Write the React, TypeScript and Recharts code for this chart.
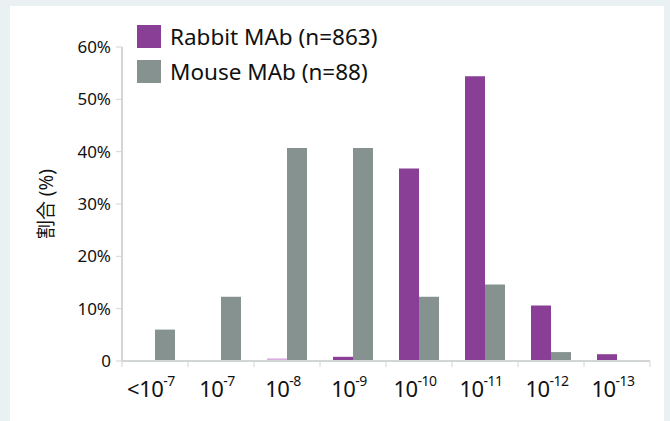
import { Bar, BarChart, Cell, XAxis, YAxis } from "recharts";

const categories = ["<10", "10", "10", "10", "10", "10", "10", "10"];
const exponents = ["-7", "-7", "-8", "-9", "-10", "-11", "-12", "-13"];
const rabbit = [0, 0, 0.5, 0.8, 36.8, 54.4, 10.6, 1.3];
const mouse = [6, 12.3, 40.7, 40.7, 12.3, 14.6, 1.7, 0];
const yTicks = [0, 10, 20, 30, 40, 50, 60];

const PURPLE = "#8a3f97";
const GRAY = "#85928f";
const FONT = '"Noto Sans", "Noto Sans CJK JP", sans-serif';

const data = categories.map((c, i) => ({
  key: `${c}^${exponents[i]}`,
  base: c,
  exp: exponents[i],
  rabbit: rabbit[i],
  mouse: mouse[i],
}));

const BAND = (650 - 122) / categories.length;

function XTick({ x, y, payload }: { x?: number; y?: number; payload?: { value: string; index: number } }) {
  const cx = x ?? 0;
  const cy = y ?? 0;
  const d = data[payload?.index ?? 0];
  return (
    <g>
      <line x1={cx - BAND / 2} x2={cx - BAND / 2} y1={361} y2={367} stroke="#d2d6d6" />
      {payload?.index === categories.length - 1 && (
        <line x1={cx + BAND / 2} x2={cx + BAND / 2} y1={361} y2={367} stroke="#d2d6d6" />
      )}
      <text x={cx - 4} y={cy + 28} textAnchor="middle" fontSize={22} fill="#111" fontFamily={FONT} letterSpacing={-0.5}>
        {d.base}
        <tspan fontSize={14} dy={-11}>
          {d.exp}
        </tspan>
      </text>
    </g>
  );
}

function LegendBox() {
  const rows = [
    { name: "Rabbit MAb (n=863)", color: PURPLE },
    { name: "Mouse MAb (n=88)", color: GRAY },
  ];
  return (
    <div style={{ fontFamily: FONT }}>
      {rows.map((r) => (
        <div key={r.name} style={{ display: "flex", alignItems: "center", height: 35 }}>
          <div style={{ width: 24, height: 23, background: r.color, marginRight: 9 }} />
          <span style={{ fontSize: 22.5, color: "#111", lineHeight: "23px" }}>{r.name}</span>
        </div>
      ))}
    </div>
  );
}

export default function App() {
  return (
    <div style={{ position: "absolute", left: 0, top: 0, width: 670, height: 421, background: "#eaf1f3" }}>
      <div style={{ position: "absolute", left: 10, top: 6, width: 654, height: 415, background: "#fff" }} />
      <div style={{ position: "absolute", left: 0, top: 0 }}>
        <BarChart
          width={670}
          height={421}
          data={data}
          margin={{ top: 47, right: 20, bottom: 0, left: 0 }}
          barSize={20}
          barGap={0}
        >
          <XAxis
            dataKey="key"
            height={60}
            axisLine={{ stroke: "#d2d6d6", strokeWidth: 2 }}
            tickLine={false}
            tick={<XTick />}
            interval={0}
          />
          <YAxis
            width={122}
            domain={[0, 60]}
            ticks={yTicks}
            interval={0}
            tickFormatter={(v: number) => (v === 0 ? "0" : `${v}%`)}
            tick={{ fontSize: 17, fill: "#111", fontFamily: FONT }}
            tickLine={{ stroke: "#d2d6d6" }}
            tickSize={6}
            tickMargin={5}
            axisLine={{ stroke: "#d2d6d6", strokeWidth: 2 }}
            label={{
              content: () => (
                <text
                  x={46}
                  y={204}
                  transform="rotate(-90, 46, 204)"
                  textAnchor="middle"
                  dominantBaseline="central"
                  fontSize={19}
                  fill="#111"
                  fontFamily={FONT}
                >
                  割合 (%)
                </text>
              ),
            }}
          />
          <Bar dataKey="rabbit" fill={PURPLE} isAnimationActive={false}>
            {data.map((_, i) => (
              <Cell key={i} fill={i === 2 ? "#dcaee0" : PURPLE} />
            ))}
          </Bar>
          <Bar dataKey="mouse" fill={GRAY} isAnimationActive={false} />
        </BarChart>
      </div>
      <div style={{ position: "absolute", left: 137, top: 19 }}>
        <LegendBox />
      </div>
    </div>
  );
}
